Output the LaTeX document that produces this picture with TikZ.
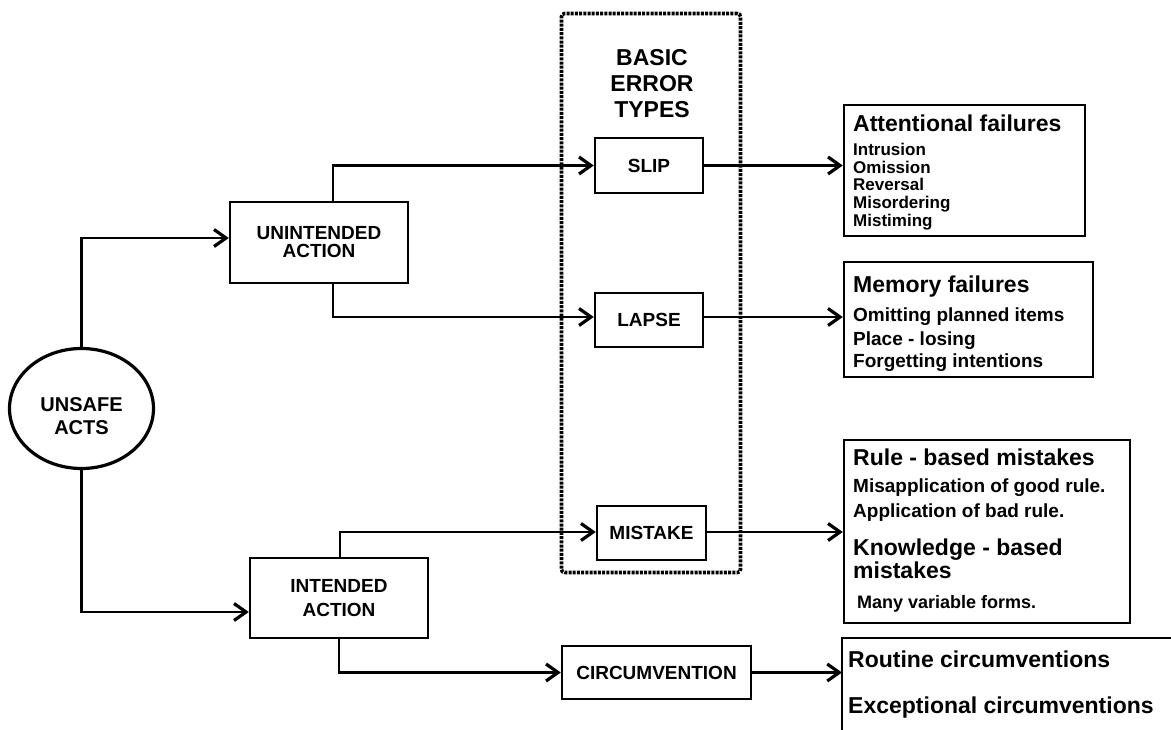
\documentclass[tikz,border=0pt]{standalone}
\usepackage{fontspec}
\setmainfont{Liberation Sans}
\usetikzlibrary{arrows.meta,shapes.geometric,calc}
\begin{document}
\begin{tikzpicture}[x=1pt,y=-1pt,
  box/.style={draw,line width=2.4pt,rectangle,inner sep=0pt},
  lbl/.style={font=\bfseries\fontsize{19}{18}\selectfont,align=center},
  conn/.style={line width=2.4pt,-{Straight Barb[length=12pt,width=17pt,line width=3.2pt]}},
  plain/.style={line width=2.4pt},
  head/.style={anchor=base west,inner sep=0pt,font=\bfseries\fontsize{23}{26}\selectfont},
  item/.style={anchor=base west,inner sep=0pt,font=\bfseries\fontsize{19}{22}\selectfont},
  smallitem/.style={anchor=base west,inner sep=0pt,font=\bfseries\fontsize{17}{18}\selectfont},
]
\useasboundingbox (0,0) rectangle (1171,730);

% group box
\node[draw,line width=3.6pt,dash pattern=on 3pt off 1.2pt,rounded corners=3pt,
      minimum width=179pt,minimum height=559pt,inner sep=0pt] (grp) at (651,293) {};
\node[align=center,inner sep=0pt,font=\bfseries\fontsize{23}{26}\selectfont] (bet) at (652,84) {BASIC\\ERROR\\TYPES};

% root
\node[ellipse,draw,line width=3.2pt,minimum width=144pt,minimum height=120pt,inner sep=0pt] (ua) at (81.5,408.5) {};
\node[align=center,inner sep=0pt,font=\bfseries\fontsize{20}{23}\selectfont] (uat) at (81.5,416.5) {UNSAFE\\ACTS};

% action boxes
\node[box,lbl,minimum width=178pt,minimum height=81pt] (unint) at (319,242.5) {UNINTENDED\\ACTION};
\node[box,lbl,font=\bfseries\fontsize{19}{24}\selectfont,minimum width=178pt,minimum height=80pt] (intd) at (339,598) {INTENDED\\ACTION};

% error types
\node[box,lbl,minimum width=108pt,minimum height=55pt] (slip) at (649,165.5) {SLIP};
\node[box,lbl,minimum width=108pt,minimum height=54pt] (lapse) at (649,320) {LAPSE};
\node[box,lbl,minimum width=109pt,minimum height=54pt] (mistake) at (651.5,533) {MISTAKE};
\node[box,lbl,minimum width=189pt,minimum height=53pt] (circ) at (656.5,672.5) {CIRCUMVENTION};

% result boxes
\node[box,minimum width=241pt,minimum height=131pt] (att) at (964.5,170.5) {};
\node[head] (att0) at (853,132) {Attentional failures};
\node[smallitem] (att1) at (853,156) {Intrusion};
\node[smallitem] (att2) at (853,174) {Omission};
\node[smallitem] (att3) at (853,191) {Reversal};
\node[smallitem] (att4) at (853,209) {Misordering};
\node[smallitem] (att5) at (853,227) {Mistiming};

\node[box,minimum width=249pt,minimum height=115pt] (mem) at (968.5,319.5) {};
\node[head] (mem0) at (853,293) {Memory failures};
\node[item] (mem1) at (853,322) {Omitting planned items};
\node[item] (mem2) at (853,345) {Place - losing};
\node[item] (mem3) at (853,367) {Forgetting intentions};

\node[box,minimum width=286pt,minimum height=183pt] (rule) at (987,531.5) {};
\node[head] (rule0) at (853,465) {Rule - based mistakes};
\node[item] (rule1) at (853,492) {Misapplication of good rule.};
\node[item] (rule2) at (853,517) {Application of bad rule.};
\node[head] (rule3) at (853,555) {Knowledge - based};
\node[head] (rule4) at (853,578) {mistakes};
\node[item,font=\bfseries\fontsize{18}{20}\selectfont] (rule5) at (857,608) {Many variable forms.};

\coordinate (cbc) at (842,638);
\draw[plain] (842,731) -- (cbc) -- (1172,638);
\node[head] (cb1) at (848,667) {Routine circumventions};
\node[head] (cb2) at (848,713) {Exceptional circumventions};

% connectors
\draw[conn] (ua.north) |- ([yshift=4.5pt]unint.west);
\draw[conn] (ua.south) |- ([yshift=-14pt]intd.west);
\draw[conn] ([xshift=14pt]unint.north) |- (slip.west);
\draw[conn] ([xshift=14pt]unint.south) |- ([yshift=3pt]lapse.west);
\draw[conn] ([xshift=1pt]intd.north) |- ([yshift=1pt]mistake.west);
\draw[conn] (intd.south) |- (circ.west);
\draw[conn] (slip.east) -- (slip.east -| att.west);
\draw[conn] ([yshift=3pt]lapse.east) -- ([yshift=3pt]lapse.east -| mem.west);
\draw[conn] ([yshift=1pt]mistake.east) -- ([yshift=1pt]mistake.east -| rule.west);
\draw[conn] (circ.east) -- (circ.east -| cbc);
\end{tikzpicture}
\end{document}
